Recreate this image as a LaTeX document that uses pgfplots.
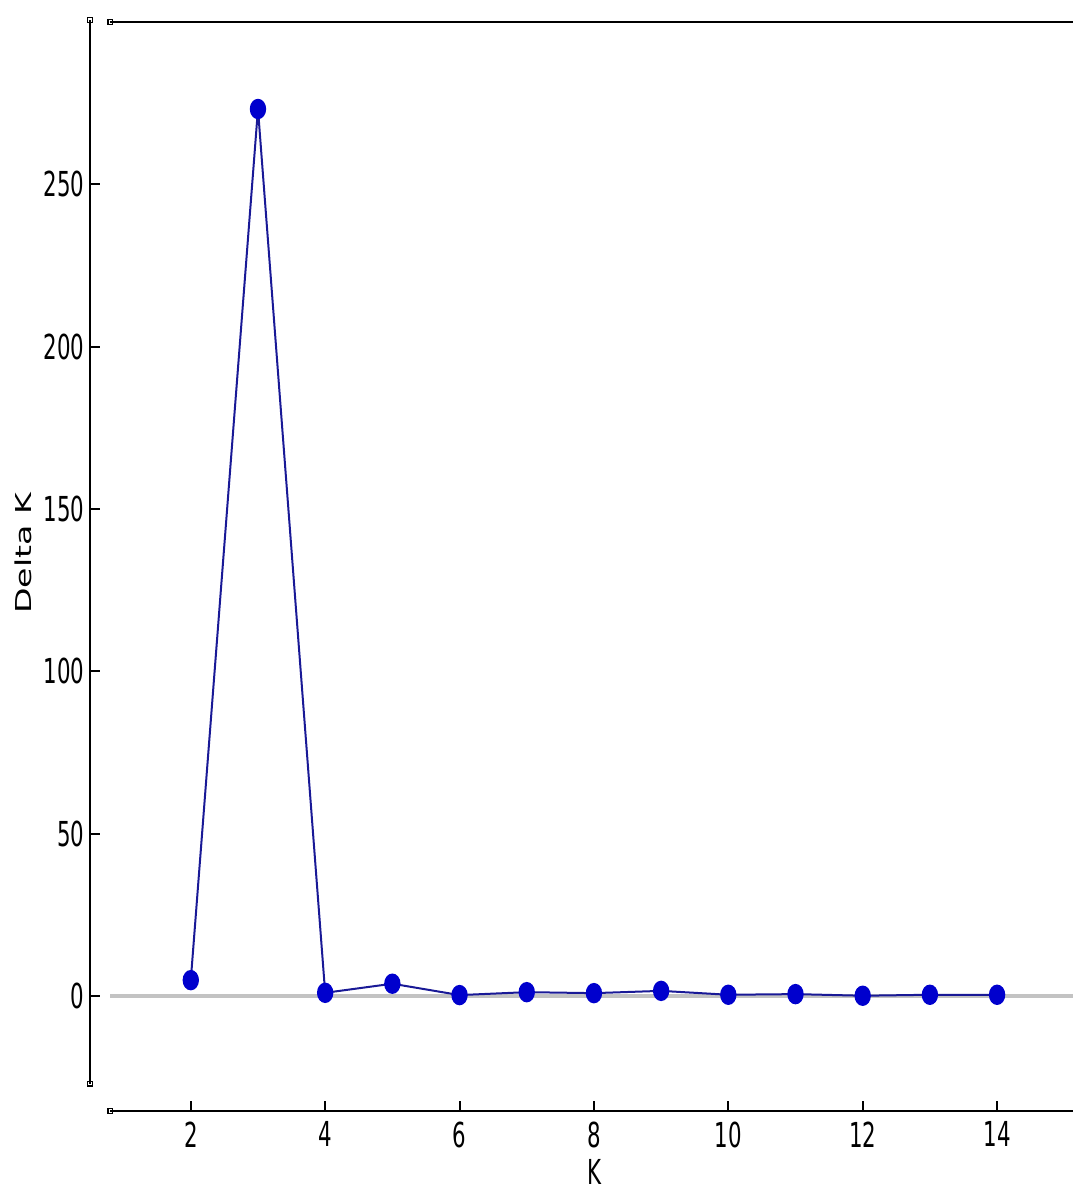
\documentclass[border=0pt]{standalone}
\usepackage{fontspec}
\setmainfont{DejaVu Sans}
\newfontfamily\tickfont[FakeStretch=0.62]{DejaVu Sans}
\usepackage{graphicx}
\usepackage{pgfplots}
\pgfplotsset{compat=1.18}
\definecolor{markblue}{RGB}{0,0,205}
\definecolor{lineblue}{RGB}{25,25,150}
\pgfplotstableread{
k dk
2 4.9
3 273.2
4 1.0
5 3.8
6 0.3
7 1.2
8 0.9
9 1.6
10 0.4
11 0.6
12 0.1
13 0.4
14 0.4
}\deltak
\begin{document}
\begin{tikzpicture}
\begin{axis}[
  name=ax,
  scale only axis,
  width=245.75pt, height=272.25pt,
  xmin=0.5, xmax=15.13,
  ymin=-35.4, ymax=300,
  axis x line*=bottom, axis y line*=left,
  axis line style={draw=none},
  clip=false,
  xtick={2,4,...,14},
  ytick={0,50,100,150,200,250},
  tick align=inside,
  major tick length=2.5pt,
  every tick/.style={black, line width=0.5pt},
  /pgf/number format/assume math mode=true,
  ticklabel style={font=\tickfont\fontsize{8.6}{10}\selectfont},
  yticklabel style={inner xsep=1.2pt},
  xticklabel style={inner ysep=2.5pt},
  xlabel={\tickfont\fontsize{8.6}{10}\selectfont K},
  xlabel style={at={(axis description cs:0.513,0)}, anchor=center, yshift=-15.25pt},
  ylabel={\fontsize{8.3}{10}\selectfont\scalebox{1}[0.66]{Delta K}},
  ylabel style={at={([xshift=-16.75pt]axis description cs:0,0.512)}, anchor=center},
]
\addplot[draw={rgb,255:red,195;green,195;blue,195}, line width=1pt, forget plot] coordinates {(0.8,0) (15.13,0)};
\addplot[color=lineblue, line width=0.5pt, mark=*, mark size=2.3pt,
  mark options={fill=markblue, draw=markblue, xscale=0.78}] table[x=k, y=dk] {\deltak};
\draw[black, line width=0.65pt] (axis cs:0.5,-27) -- (axis cs:0.5,300.6);
\draw[black, line width=0.65pt] (axis cs:0.8,-35.4) -- (axis cs:15.13,-35.4);
\draw[black, line width=0.65pt] (axis cs:0.8,300) -- (axis cs:15.13,300);
\draw[black, line width=0.4pt] (axis cs:0.5,-27) ++(-0.6pt,-0.6pt) rectangle ++(1.2pt,1.2pt);
\draw[black, line width=0.4pt] (axis cs:0.5,300.6) ++(-0.6pt,-0.6pt) rectangle ++(1.2pt,1.2pt);
\draw[black, line width=0.4pt] (axis cs:0.8,-35.4) ++(-0.6pt,-0.6pt) rectangle ++(1.2pt,1.2pt);
\draw[black, line width=0.4pt] (axis cs:0.8,300) ++(-0.6pt,-0.6pt) rectangle ++(1.2pt,1.2pt);
\end{axis}
\pgfresetboundingbox
\path (ax.south west) ++(-22.5pt,-19.5pt) rectangle ++(268.25pt,297.25pt);
\end{tikzpicture}
\end{document}
